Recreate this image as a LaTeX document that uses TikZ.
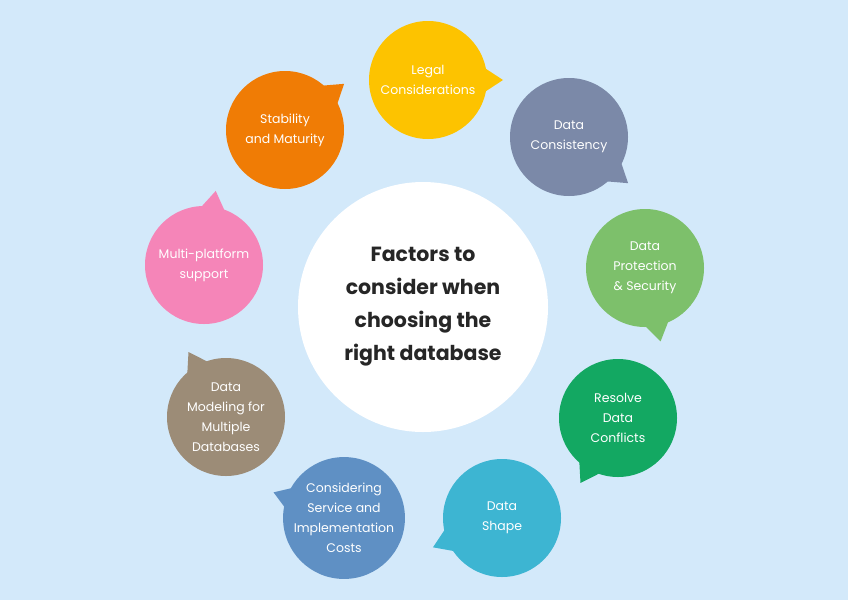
\documentclass[tikz,border=0pt]{standalone}
\usepackage{fontspec}
\setmainfont{Poppins}
\definecolor{bgblue}{HTML}{D3E9FA}
\definecolor{cyellow}{HTML}{FDC300}
\definecolor{cslate}{HTML}{7B89A8}
\definecolor{clgreen}{HTML}{7DC06B}
\definecolor{cgreen}{HTML}{13A862}
\definecolor{cteal}{HTML}{3DB5D2}
\definecolor{cblue}{HTML}{5F90C4}
\definecolor{ctaupe}{HTML}{9C8C77}
\definecolor{cpink}{HTML}{F585B8}
\definecolor{corange}{HTML}{F07C05}
\tikzstyle{bubble}=[circle, minimum size=118pt, inner sep=0pt, align=center, text=white, font=\fontsize{12.5}{20}\selectfont]
\tikzstyle{hub}=[circle, fill=white, minimum size=250pt, inner sep=0pt, align=center, font=\fontsize{20.5}{33}\selectfont\bfseries, text=black!85]
% name, position, colour, tail angle, text
\newcommand{\drawbubble}[5]
{
  \fill[#3] ($(#2)+(#4-22:50)$) -- ($(#2)+(#4:75)$) -- ($(#2)+(#4+22:50)$) -- cycle;
  \node[bubble, fill=#3](#1) at (#2){#5};
}
\usetikzlibrary{calc}
\begin{document}
\begin{tikzpicture}[x=1pt, y=-1pt]
	\fill[bgblue] (0,0) rectangle (848,600);
	\useasboundingbox (0,0) rectangle (848,600);

	\node[hub](hub) at (423,307){Factors to\\consider when\\choosing the\\right database};

	\drawbubble{legal}{428,80}{cyellow}{0}{Legal\\Considerations}
	\drawbubble{consistency}{569,137}{cslate}{38}{Data\\Consistency}
	\drawbubble{protection}{645,268}{clgreen}{78}{Data\\Protection\\\& Security}
	\drawbubble{conflicts}{618,418}{cgreen}{120}{Resolve\\Data\\Conflicts}
	\drawbubble{shape}{502,518}{cteal}{157}{Data\\Shape}
	\drawbubble{costs}{344,518}{cblue}{200}{Considering\\Service and\\Implementation\\Costs}
	\drawbubble{modeling}{226,417}{ctaupe}{240}{Data\\Modeling for\\Multiple\\Databases}
	\drawbubble{platform}{204,265}{cpink}{279}{Multi-platform\\support}
	\drawbubble{stability}{285,130}{corange}{322}{Stability\\and Maturity}
\end{tikzpicture}
\end{document}
